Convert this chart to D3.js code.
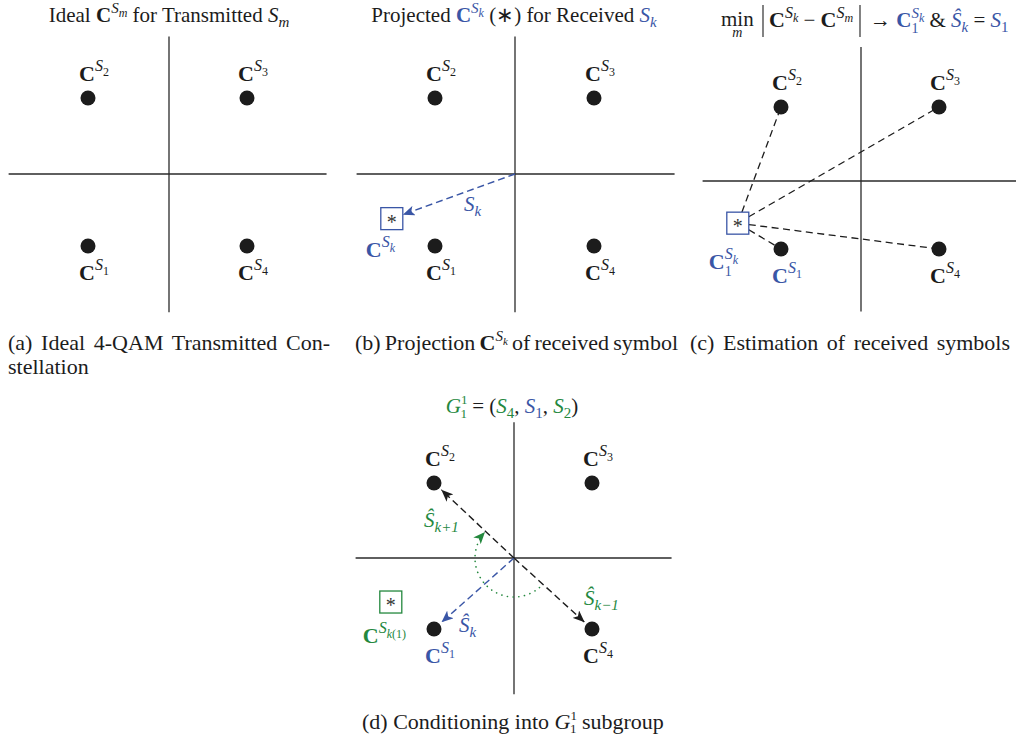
<!DOCTYPE html>
<html><head><meta charset="utf-8">
<script src="https://cdn.jsdelivr.net/npm/d3@7"></script>
<style>body{margin:0;background:#fff}svg{display:block}</style>
</head><body>
<svg id="fig" width="1016" height="741"></svg>
<script>
// 4-QAM constellation: symbol index, in-phase and quadrature coordinates
const symbolIndex = [1, 2, 3, 4];
const inPhase = [-1, -1, 1, 1];
const quadrature = [-1, 1, 1, -1];
// projection C^{S_k} of the received symbol (I, Q)
const receivedIQ = [-1.54, -0.62];
// nearest ideal point after the minimum-distance decision
const decidedIndex = 1;
// G_1^1 subgroup order: (S_{k-1}, S_k, S_{k+1})
const subgroup = [4, 1, 2];
// extent of the I/Q axes in constellation units
const xLim = [-1.98, 2.02];
const yLim = [-1.92, 1.81];

const INK = "#1c1c1c", BLUE = "#3a56a6", GREEN = "#24883e";
const FONT = "'Liberation Serif','Times New Roman',serif";
const svg = d3.select("#fig").attr("font-family", FONT);

const defs = svg.append("defs");
[["k", INK], ["b", BLUE], ["g", GREEN]].forEach(([id, c]) => {
  defs.append("marker").attr("id", "ar-" + id)
    .attr("viewBox", "0 0 12 10").attr("refX", 12).attr("refY", 5)
    .attr("markerWidth", 12).attr("markerHeight", 10)
    .attr("markerUnits", "userSpaceOnUse").attr("orient", "auto")
    .append("path").attr("d", "M0,0 L12,5 L0,10 L3,5 Z").attr("fill", c);
});

// text made of styled runs; o = baseline offset in px
function rich(g, x, y, parts, o = {}) {
  const t = g.append("text").attr("x", x).attr("y", y)
    .attr("font-size", o.size || 21).attr("fill", o.fill || INK)
    .attr("text-anchor", o.anchor || "start");
  let cur = 0;
  for (const p of parts) {
    const s = t.append("tspan").text(p.t);
    const off = p.o || 0;
    if (off !== cur) { s.attr("dy", off - cur); cur = off; }
    if (p.s) s.attr("font-size", p.s);
    if (p.b) s.attr("font-weight", "bold");
    if (p.i) s.attr("font-style", "italic");
    if (p.c) s.attr("fill", p.c);
    if (p.dx) s.attr("dx", p.dx);
  }
  return t;
}
const cSym = (n, c) => [
  { t: "C", b: 1, s: 22, c },
  { t: "S", i: 1, s: 16, o: -10, c },
  { t: String(n), s: 12, o: -5, c }
];

const panels = [
  { id: "a", x: [88, 169, 247], y: [246, 174, 98], recv: null },
  { id: "b", x: [435, 515, 594], y: [246, 174, 98], recv: BLUE },
  { id: "c", x: [781, 861, 939], y: [249, 181, 107], recv: BLUE },
  { id: "d", x: [434, 514, 592], y: [629, 558, 483], recv: GREEN }
];

const scales = {};
panels.forEach(p => {
  const g = svg.append("g").attr("class", "panel-" + p.id);
  const x = d3.scaleLinear().domain([-1, 0, 1]).range(p.x);
  const y = d3.scaleLinear().domain([-1, 0, 1]).range(p.y);
  scales[p.id] = { g, x, y };
  g.append("line").attr("x1", x(xLim[0])).attr("x2", x(xLim[1]))
    .attr("y1", y(0)).attr("y2", y(0)).attr("stroke", "#2a2a2a").attr("stroke-width", 1.3);
  g.append("line").attr("x1", x(0)).attr("x2", x(0))
    .attr("y1", y(yLim[0])).attr("y2", y(yLim[1])).attr("stroke", "#2a2a2a").attr("stroke-width", 1.3);
});

// point where the segment from a square's centre toward (tx, ty) leaves the square
function squareExit(cx, cy, tx, ty, h) {
  const dx = tx - cx, dy = ty - cy;
  const t = Math.min(h / Math.abs(dx || 1e-9), h / Math.abs(dy || 1e-9));
  return [cx + dx * t, cy + dy * t];
}
const half = 11;
const hatS = (sub, c) => [{ t: "Ŝ", i: 1, s: 21, c }, { t: sub, i: 1, s: 15, o: 5, c }];

{ // (b) projection arrow
  const { g, x, y } = scales.b;
  const rx = x(receivedIQ[0]), ry = y(receivedIQ[1]);
  const [ex, ey] = squareExit(rx, ry, x(0), y(0), half);
  g.append("line").attr("x1", x(0)).attr("y1", y(0)).attr("x2", ex).attr("y2", ey)
    .attr("stroke", BLUE).attr("stroke-width", 1.4).attr("stroke-dasharray", "7,4")
    .attr("marker-end", "url(#ar-b)");
  rich(g, 464, 211, [{ t: "S", i: 1, s: 21, c: BLUE }, { t: "k", i: 1, s: 15, o: 5, c: BLUE }]);
}
{ // (c) distances to every ideal point
  const { g, x, y } = scales.c;
  const rx = x(receivedIQ[0]), ry = y(receivedIQ[1]);
  symbolIndex.forEach((n, i) => {
    const tx = x(inPhase[i]), ty = y(quadrature[i]);
    const [ex, ey] = squareExit(rx, ry, tx, ty, half);
    g.append("line").attr("x1", ex).attr("y1", ey).attr("x2", tx).attr("y2", ty)
      .attr("stroke", INK).attr("stroke-width", 1.3).attr("stroke-dasharray", "7,4.5");
  });
}
{ // (d) subgroup arrows and rotation arc
  const { g, x, y } = scales.d;
  const ox = x(0), oy = y(0);
  subgroup.forEach(n => {
    const i = n - 1;
    const tx = x(inPhase[i]), ty = y(quadrature[i]);
    const L = Math.hypot(tx - ox, ty - oy), s = (L - 10) / L;
    const blue = n === decidedIndex;
    g.append("line").attr("x1", ox).attr("y1", oy)
      .attr("x2", ox + (tx - ox) * s).attr("y2", oy + (ty - oy) * s)
      .attr("stroke", blue ? BLUE : INK).attr("stroke-width", 1.4)
      .attr("stroke-dasharray", "7,4").attr("marker-end", blue ? "url(#ar-b)" : "url(#ar-k)");
  });
  const ang = n => Math.atan2(y(quadrature[n - 1]) - oy, x(inPhase[n - 1]) - ox);
  const a0 = ang(subgroup[0]) + 0.12, a1 = ang(subgroup[2]) + 2 * Math.PI - 0.02;
  const p = d3.path(); p.arc(ox, oy, 39, a0, a1, false);
  g.append("path").attr("d", p.toString()).attr("fill", "none")
    .attr("stroke", GREEN).attr("stroke-width", 1.6).attr("stroke-linecap", "round")
    .attr("stroke-dasharray", "0.1,5.6").attr("marker-end", "url(#ar-g)");
  rich(g, 424, 527, hatS("k+1", GREEN));
  rich(g, 584, 605, hatS("k−1", GREEN));
  rich(g, 459, 632, hatS("k", BLUE));
}

// constellation points and their labels
panels.forEach(p => {
  const { g, x, y } = scales[p.id];
  g.selectAll("circle.pt").data(symbolIndex).join("circle").attr("class", "pt")
    .attr("cx", (d, i) => x(inPhase[i])).attr("cy", (d, i) => y(quadrature[i]))
    .attr("r", 7.5).attr("fill", INK);
  symbolIndex.forEach((n, i) => {
    const px = x(inPhase[i]), py = y(quadrature[i]);
    const col = (p.id === "c" || p.id === "d") && n === decidedIndex ? BLUE : INK;
    const by = quadrature[i] > 0 ? py - 17 : py + 34;
    rich(g, px - 9, by, cSym(n, col));
  });
  if (p.recv) {
    const rx = x(receivedIQ[0]), ry = y(receivedIQ[1]);
    g.append("rect").attr("x", rx - half).attr("y", ry - half)
      .attr("width", 2 * half).attr("height", 2 * half)
      .attr("fill", "#fff").attr("stroke", p.recv).attr("stroke-width", 1.3);
    g.append("text").attr("x", rx).attr("y", ry + 10).attr("text-anchor", "middle")
      .attr("font-size", 20).attr("fill", "#333").text("*");
  }
});

// labels of the received projection
{
  const b = scales.b, c = scales.c, d = scales.d;
  rich(b.g, b.x(receivedIQ[0]) - 26, b.y(receivedIQ[1]) + 38, [
    { t: "C", b: 1, s: 22, c: BLUE }, { t: "S", i: 1, s: 16, o: -10, c: BLUE }, { t: "k", i: 1, s: 12, o: -5, c: BLUE }]);
  rich(c.g, c.x(receivedIQ[0]) - 29, c.y(receivedIQ[1]) + 46, [
    { t: "C", b: 1, s: 22, c: BLUE }, { t: "1", s: 14, o: 7, c: BLUE },
    { t: "S", i: 1, s: 16, o: -10, dx: -7, c: BLUE }, { t: "k", i: 1, s: 12, o: -5, c: BLUE }]);
  rich(d.g, d.x(receivedIQ[0]) - 28, d.y(receivedIQ[1]) + 41, [
    { t: "C", b: 1, s: 22, c: GREEN }, { t: "S", i: 1, s: 16, o: -10, c: GREEN },
    { t: "k", i: 1, s: 12, o: -5, c: GREEN }, { t: "(1)", s: 12, o: -5, c: GREEN }]);
}

// panel titles
rich(svg, 169, 22, [
  { t: "Ideal " }, { t: "C", b: 1 }, { t: "S", i: 1, s: 15, o: -9 }, { t: "m", i: 1, s: 12, o: -5 },
  { t: "  for Transmitted " }, { t: "S", i: 1 }, { t: "m", i: 1, s: 15, o: 5 }], { anchor: "middle" });
rich(svg, 514, 22, [
  { t: "Projected " }, { t: "C", b: 1, c: BLUE }, { t: "S", i: 1, s: 15, o: -9, c: BLUE },
  { t: "k", i: 1, s: 12, o: -5, c: BLUE }, { t: "  (∗) for Received " },
  { t: "S", i: 1, c: BLUE }, { t: "k", i: 1, s: 15, o: 5, c: BLUE }], { anchor: "middle" });
{ // minimum-distance title of (c)
  const y0 = 27;
  const bar = x => svg.append("line").attr("x1", x).attr("x2", x).attr("y1", 5).attr("y2", 37)
    .attr("stroke", INK).attr("stroke-width", 1.1);
  // "min" with its index m set underneath, in one text element
  const mt = rich(svg, 721, y0 - 1, [{ t: "min" }]);
  const mw = mt.node().getComputedTextLength();
  const ms = mt.append("tspan").text("m").attr("font-size", 14).attr("font-style", "italic");
  const mmw = ms.node().getComputedTextLength();
  ms.attr("dx", -(mw + mmw) / 2).attr("dy", 11);
  bar(763);
  rich(svg, 769, y0, [{ t: "C", b: 1, s: 22 }, { t: "S", i: 1, s: 16, o: -9 }, { t: "k", i: 1, s: 12, o: -5 },
    { t: " − " }, { t: "C", b: 1, s: 22 }, { t: "S", i: 1, s: 16, o: -9 }, { t: "m", i: 1, s: 12, o: -5 }]);
  bar(860);
  rich(svg, 870, y0, [{ t: "→ " }, { t: "C", b: 1, c: BLUE }, { t: "1", s: 14, o: 6, c: BLUE },
    { t: "S", i: 1, s: 15, o: -9, dx: -7, c: BLUE }, { t: "k", i: 1, s: 12, o: -5, c: BLUE },
    { t: " & " }, { t: "Ŝ", i: 1, c: BLUE }, { t: "k", i: 1, s: 15, o: 5, c: BLUE },
    { t: " = " }, { t: "S", i: 1, c: BLUE }, { t: "1", s: 15, o: 5, c: BLUE }]);
}
rich(svg, 512, 413, [
  { t: "G", i: 1, c: GREEN }, { t: "1", s: 13, o: -9, c: GREEN }, { t: "1", s: 13, o: 5, dx: -6.5, c: GREEN },
  { t: " = (" }, { t: "S", i: 1, c: GREEN }, { t: "4", s: 15, o: 5, c: GREEN }, { t: ", " },
  { t: "S", i: 1, c: BLUE }, { t: "1", s: 15, o: 5, c: BLUE }, { t: ", " },
  { t: "S", i: 1, c: GREEN }, { t: "2", s: 15, o: 5, c: GREEN }, { t: ")" }], { anchor: "middle" });

// captions, spaced out to their column width
function fitWords(t, width) {
  const w = t.node().getBBox().width;
  const n = (t.text().match(/ /g) || []).length;
  if (n) t.attr("word-spacing", (width - w) / n);
}
const CAP = 22;
fitWords(rich(svg, 8, 350, [{ t: "(a) Ideal 4-QAM Transmitted Con-" }], { size: CAP }), 322);
rich(svg, 8, 374, [{ t: "stellation" }], { size: CAP });
fitWords(rich(svg, 355, 350, [{ t: "(b) Projection " }, { t: "C", b: 1 }, { t: "S", i: 1, s: 15, o: -9 },
  { t: "k", i: 1, s: 11, o: -5 }, { t: " of received symbol", o: 0 }], { size: CAP }), 323);
fitWords(rich(svg, 690, 350, [{ t: "(c) Estimation of received symbols" }], { size: CAP }), 320);
rich(svg, 362, 729, [{ t: "(d)  Conditioning into " }, { t: "G", i: 1 }, { t: "1", s: 13, o: -9 },
  { t: "1", s: 13, o: 4, dx: -6.5 }, { t: " subgroup" }], { size: CAP });
</script>
</body></html>
